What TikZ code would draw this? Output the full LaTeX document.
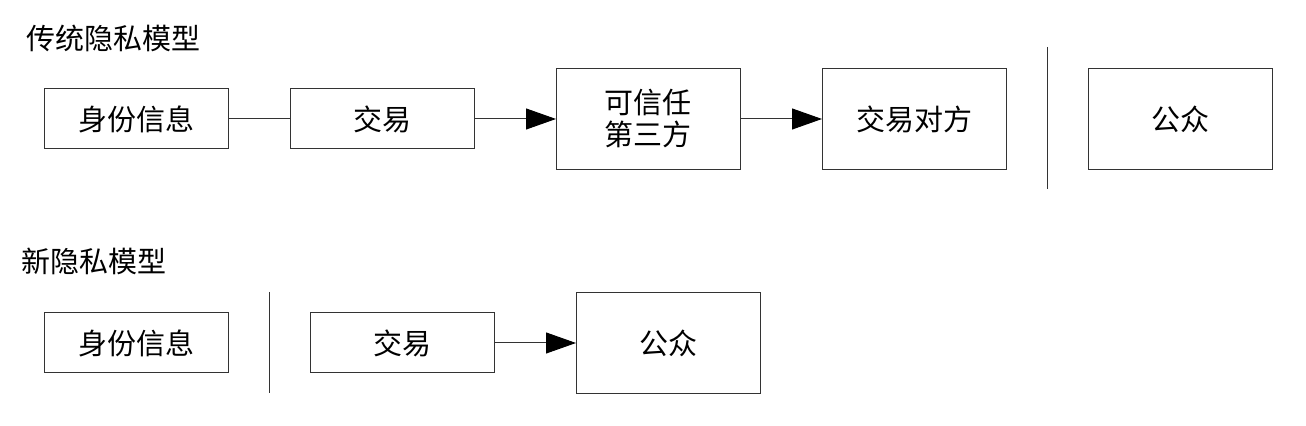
\documentclass[tikz,border=0pt]{standalone}
\usepackage{fontspec}
\newfontfamily\cjk{Noto Sans CJK SC}
\usetikzlibrary{positioning}
\usetikzlibrary{arrows.meta}

\begin{document}
\begin{tikzpicture}[
  font=\cjk\fontsize{14.5pt}{16pt}\selectfont,
  smallbox/.style={draw=black!80,line width=0.5pt,minimum width=92pt,minimum height=30pt,inner sep=0pt,outer sep=0pt},
  bigbox/.style={draw=black!80,line width=0.5pt,minimum width=92pt,minimum height=50.5pt,inner sep=0pt,outer sep=0pt,align=center},
  link/.style={draw=black!80,line width=0.5pt},
  flow/.style={link,-{Triangle[length=15pt,width=10.5pt,color=black]}}
  ]
  \useasboundingbox (0,0) rectangle (653pt,213pt);

  % traditional model
  \node[anchor=west,inner sep=0pt, name=oldtitle] at (13pt,194pt) {传统隐私模型};
  \node[smallbox, name=oldid] at (68pt,153.5pt) {身份信息};
  \node[smallbox, name=oldtx, right=31pt of oldid] {交易};
  \node[bigbox, name=ttp, right=41pt of oldtx] {可信任\\第三方};
  \node[bigbox, name=peer, right=41pt of ttp] {交易对方};
  \node[bigbox, name=oldpub, right=41pt of peer] {公众};
  \coordinate (oldcuttop) at (523.5pt,189.5pt);
  \coordinate (oldcutbot) at (523.5pt,118.5pt);

  \draw[link] (oldid) -- (oldtx);
  \draw[flow] (oldtx) -- (ttp);
  \draw[flow] (ttp)   -- (peer);
  \draw[link] (oldcuttop) -- (oldcutbot);

  % new model
  \node[anchor=west,inner sep=0pt, name=newtitle] at (10.5pt,82.5pt) {新隐私模型};
  \node[smallbox, name=newid] at (68pt,41.5pt) {身份信息};
  \node[smallbox, name=newtx, right=41pt of newid] {交易};
  \node[bigbox, name=newpub, right=41pt of newtx] {公众};
  \coordinate (newcuttop) at (134.5pt,67pt);
  \coordinate (newcutbot) at (134.5pt,16.5pt);

  \draw[link] (newcuttop) -- (newcutbot);
  \draw[flow] (newtx) -- (newpub);

\end{tikzpicture}
\end{document}
